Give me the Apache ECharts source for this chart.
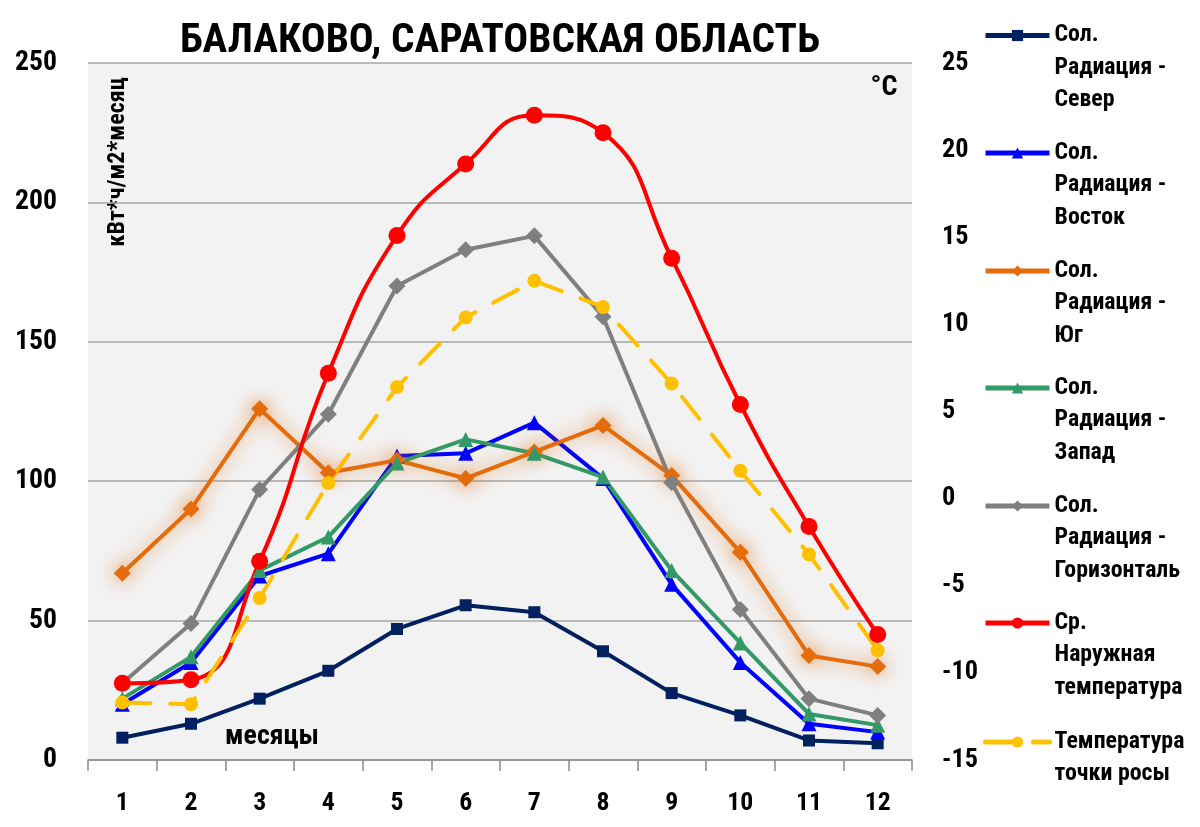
<!DOCTYPE html>
<html><head><meta charset="utf-8">
<script src="https://cdn.jsdelivr.net/npm/echarts@6/dist/echarts.min.js"></script>
<style>html,body{margin:0;padding:0;background:#fff}#c{width:1200px;height:827px}</style>
</head><body><div id="c"></div>
<script>
var months = ['1','2','3','4','5','6','7','8','9','10','11','12'];
var north = [8, 13, 22, 32, 47, 55.5, 53, 39, 24, 16, 7, 6];
var east = [20, 35, 66, 74, 109, 110, 121, 101, 63, 35, 13, 10];
var south = [67, 90, 126, 103, 107.5, 101, 110.5, 120, 102, 74.5, 37.5, 33.5];
var west = [22, 37, 68, 80, 106.5, 115, 110, 101.5, 68, 42, 16.5, 12.5];
var horiz = [27.5, 49, 97, 124, 170, 183, 188, 159, 99.5, 54, 22, 16];
var temp = [-10.6, -10.4, -3.6, 7.2, 15.1, 19.2, 22.0, 21.0, 13.8, 5.4, -1.6, -7.8];
var dew = [-11.7, -11.8, -5.7, 0.9, 6.4, 10.4, 12.5, 11.0, 6.6, 1.6, -3.2, -8.7];
var names = ['Сол. Радиация - Север','Сол. Радиация - Восток','Сол. Радиация - Юг','Сол. Радиация - Запад','Сол. Радиация - Горизонталь','Ср. Наружная температура','Температура точки росы'];
var legendLabels = ['Сол.\nРадиация -\nСевер','Сол.\nРадиация -\nВосток','Сол.\nРадиация -\nЮг','Сол.\nРадиация -\nЗапад','Сол.\nРадиация -\nГоризонталь','Ср.\nНаружная\nтемпература','Температура\nточки росы'];
var titleText = 'БАЛАКОВО, САРАТОВСКАЯ ОБЛАСТЬ';

// pick the narrowest available bold sans font
var ctx = document.createElement('canvas').getContext('2d');
function tw(font, text){ ctx.font = font; return ctx.measureText(text).width; }
function installed(f){
  var t = 'Радиация Горизонталь 0123456789';
  return tw("bold 72px '" + f + "', monospace", t) !== tw('bold 72px monospace', t) &&
         tw("bold 72px '" + f + "', serif", t) !== tw('bold 72px serif', t);
}
var cands = ['Liberation Sans Narrow','Roboto Condensed','Noto Sans Condensed','Open Sans Condensed','Arial Narrow','Roboto','Liberation Sans','DejaVu Sans Condensed','DejaVu Sans'];
var FAM = 'sans-serif';
for (var i = 0; i < cands.length; i++) { if (installed(cands[i])) { FAM = cands[i]; break; } }
var FONT = "'" + FAM + "', sans-serif";
function fit(text, target, maxSize){
  var s = 100 * target / tw("bold 100px " + FONT, text);
  return Math.min(maxSize, s);
}

var titleSize = fit(titleText, 640, 46);
var legSize = Math.min(fit('Горизонталь', 128, 25), fit('Температура', 130, 25), fit('Радиация -', 114, 25));
var xSize = fit('10', 26, 30);
var lSize = fit('250', 42, 31);
var rSize = fit('-15', 36, 31);
var unitSize = fit('кВт*ч/м2*месяц', 174, 24);
var mesSize = fit('месяцы', 94, 28);
var degSize = fit('°C', 29, 28);

var LH = 32.5;
var iconY = [35.5, 153, 271, 388, 506, 623, 742];

var legends = names.map(function(n, i){
  var lines = legendLabels[i].split('\n').length;
  var blank = lines - 1;             // blank lines put before the label so its first line sits on the icon
  var boxH = (blank + lines) * LH;
  var prefix = new Array(blank + 1).join(' \n');
  return {
    data: [n],
    orient: 'vertical', left: 983, top: iconY[i] - boxH / 2, padding: 0,
    itemWidth: 64, itemHeight: 14,
    formatter: function(){ return prefix + legendLabels[i]; },
    textStyle: {fontFamily: FONT, fontWeight: 'bold', fontSize: legSize, lineHeight: LH, color: '#000'},
    lineStyle: {width: 5, shadowBlur: 0, shadowColor: 'transparent'},
    itemStyle: {shadowBlur: 0, shadowColor: 'transparent'}
  };
});

function mk(name, data, color, symbol, size, axis, extra){
  var s = {
    name: name, type: 'line', data: data, yAxisIndex: axis,
    symbol: symbol, symbolSize: size,
    lineStyle: {color: color, width: 4},
    itemStyle: {color: color},
    emphasis: {disabled: true}, animation: false
  };
  for (var k in extra) s[k] = extra[k];
  return s;
}

var chart = echarts.init(document.getElementById('c'));
chart.setOption({
  animation: false,
  title: {text: titleText, left: 495, textAlign: 'center', top: 37 - titleSize * 0.6,
    textStyle: {fontFamily: FONT, fontWeight: 'bold', fontSize: titleSize, lineHeight: titleSize * 1.2, color: '#000'}},
  legend: legends,
  grid: {left: 88, right: 288, top: 63, bottom: 67, show: true, backgroundColor: '#F2F2F2', borderWidth: 0},
  xAxis: {type: 'category', data: months, boundaryGap: true,
    axisLine: {lineStyle: {color: '#8C8C8C', width: 1.5}},
    axisTick: {show: true, length: 11, lineStyle: {color: '#8C8C8C', width: 1.5}},
    axisLabel: {margin: 43 - xSize * 0.5, fontFamily: FONT, fontWeight: 'bold', fontSize: xSize, color: '#000'}},
  yAxis: [
    {type: 'value', min: 0, max: 250, interval: 50, position: 'left',
     axisLine: {show: false}, axisTick: {show: false},
     splitLine: {lineStyle: {color: '#A6A6A6', width: 1.5}},
     axisLabel: {margin: 31, fontFamily: FONT, fontWeight: 'bold', fontSize: lSize, color: '#000'}},
    {type: 'value', min: -15, max: 25, interval: 5, position: 'right',
     axisLine: {show: false}, axisTick: {show: false}, splitLine: {show: false},
     axisLabel: {margin: 30, fontFamily: FONT, fontWeight: 'bold', fontSize: rSize, color: '#000'}}
  ],
  graphic: [
    {type: 'text', x: 118, y: 162, rotation: Math.PI / 2,
     style: {text: 'кВт*ч/м2*месяц', fontFamily: FONT, fontWeight: 'bold', fontSize: unitSize, fill: '#000', align: 'center', verticalAlign: 'middle'}},
    {type: 'text', x: 884, y: 88,
     style: {text: '°C', fontFamily: FONT, fontWeight: 'bold', fontSize: degSize, fill: '#000', align: 'center', verticalAlign: 'middle'}},
    {type: 'text', x: 272, y: 737,
     style: {text: 'месяцы', fontFamily: FONT, fontWeight: 'bold', fontSize: mesSize, fill: '#000', align: 'center', verticalAlign: 'middle'}}
  ],
  series: [
    mk(names[0], north, '#002060', 'rect', 12, 0, {}),
    mk(names[1], east, '#0000FF', 'triangle', 15, 0, {}),
    mk(names[2], south, '#E46C0A', 'diamond', 17, 0, {
      lineStyle: {color: '#E46C0A', width: 4, shadowColor: 'rgba(228,108,10,0.75)', shadowBlur: 18},
      itemStyle: {color: '#E46C0A', shadowColor: 'rgba(228,108,10,0.75)', shadowBlur: 18}}),
    mk(names[3], west, '#339966', 'triangle', 15, 0, {}),
    mk(names[4], horiz, '#7F7F7F', 'diamond', 17, 0, {}),
    mk(names[5], temp, '#FF0000', 'circle', 17, 1, {smooth: true}),
    mk(names[6], dew, '#FFC000', 'circle', 14, 1, {
      lineStyle: {color: '#FFC000', width: 4, type: [28, 20], cap: 'round'}})
  ]
});
</script></body></html>
